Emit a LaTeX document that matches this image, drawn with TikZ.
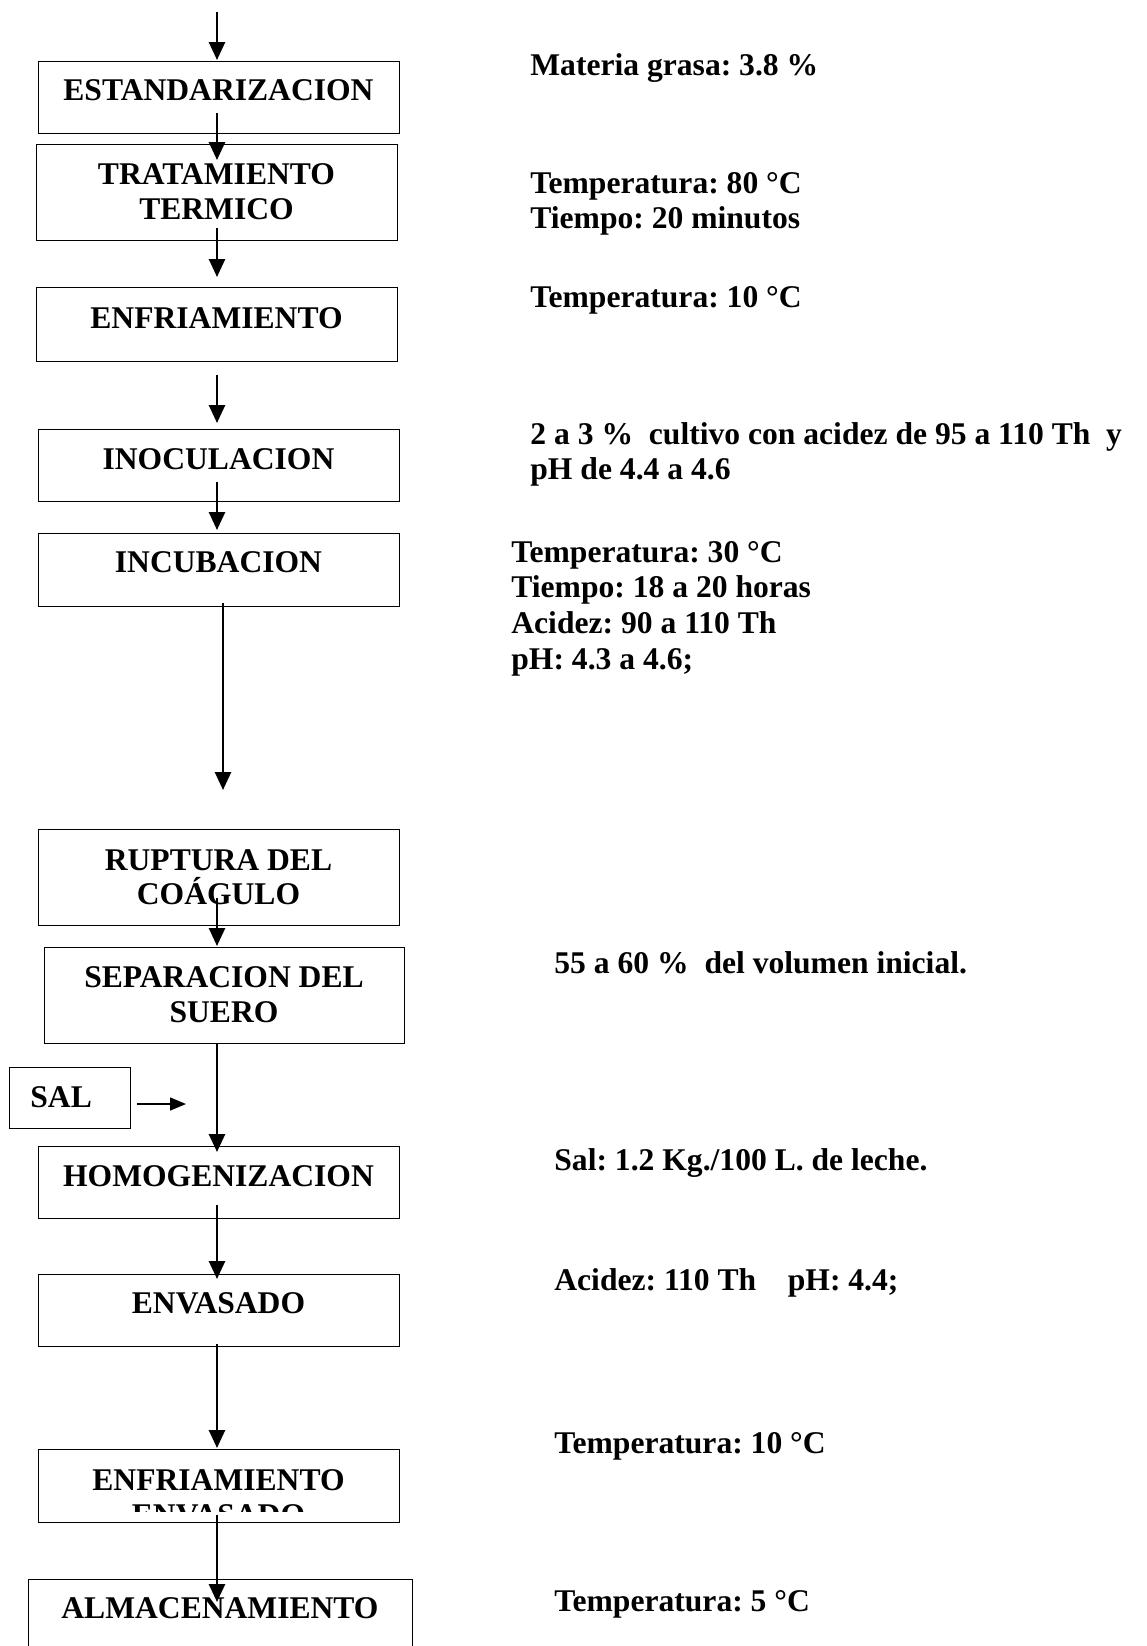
\documentclass[tikz,border=0pt]{standalone}
\usepackage{fontspec}
\setmainfont{Liberation Serif}
\usetikzlibrary{arrows.meta}
\frenchspacing
\begin{document}
\begin{tikzpicture}[x=0.5pt,y=-0.5pt,
  box/.style={draw, line width=0.7pt, inner sep=0pt, anchor=north west},
  txt/.style={inner sep=0pt, font=\fontsize{15.8}{17.5}\selectfont\bfseries},
  lbl/.style={txt, anchor=base},
  note/.style={txt, anchor=base west},
  flow/.style={line width=1.3pt, -{Triangle[length=9pt,width=8pt]}},
  feed/.style={line width=0.8pt, -{Triangle[length=8pt,width=6.5pt]}}]

% page frame
\useasboundingbox (0,0) rectangle (1147,1646);
\clip (0,0) rectangle (1147,1646);
\fill[white] (0,0) rectangle (1147,1646);

% process boxes
\node[box, minimum width=180.5pt, minimum height=36pt]   (est)   at (38,61)   {};
\node[box, minimum width=180.5pt, minimum height=48pt]   (trat)  at (36,144)  {};
\node[box, minimum width=180.5pt, minimum height=37pt]   (enf)   at (36,287)  {};
\node[box, minimum width=180.5pt, minimum height=36pt]   (inoc)  at (38,429)  {};
\node[box, minimum width=180.5pt, minimum height=36.5pt] (incub) at (38,533)  {};
\node[box, minimum width=180.5pt, minimum height=48pt]   (rupt)  at (38,829)  {};
\node[box, minimum width=180pt,   minimum height=48pt]   (sep)   at (44,947)  {};
\node[box, minimum width=60.5pt,  minimum height=30.5pt] (sal)   at (9,1067)  {};
\node[box, minimum width=180.5pt, minimum height=36pt]   (homo)  at (38,1146) {};
\node[box, minimum width=180.5pt, minimum height=36pt]   (env)   at (38,1274) {};
\node[box, minimum width=180.5pt, minimum height=36.5pt] (enfe)  at (38,1449) {};
\node[box, minimum width=192pt,   minimum height=45pt]   (alm)   at (28,1579) {};

% box captions
\node[lbl] (t-est)   at (218.5,100)  {ESTANDARIZACION};
\node[lbl] (t-trat1) at (216.5,184)  {TRATAMIENTO};
\node[lbl] (t-trat2) at (216.5,219)  {TERMICO};
\node[lbl] (t-enf)   at (216.5,328)  {ENFRIAMIENTO};
\node[lbl] (t-inoc)  at (218.5,469)  {INOCULACION};
\node[lbl] (t-incub) at (218.5,572)  {INCUBACION};
\node[lbl] (t-rupt1) at (218.5,870)  {RUPTURA DEL};
\node[lbl] (t-rupt2) at (218.5,904)  {COÁGULO};
\node[lbl] (t-sep1)  at (224,987)    {SEPARACION DEL};
\node[lbl] (t-sep2)  at (224,1022)   {SUERO};
\node[txt, anchor=base west] (t-sal) at (30,1107) {SAL};
\node[lbl] (t-homo)  at (218.5,1186) {HOMOGENIZACION};
\node[lbl] (t-env)   at (218.5,1313) {ENVASADO};
\node[lbl] (t-enfe1) at (218.5,1490) {ENFRIAMIENTO};
\begin{scope}
  \clip (38,1449) rectangle (399,1511);
  \node[lbl] (t-enfe2) at (218.5,1525) {ENVASADO};
\end{scope}
\node[lbl] (t-alm)   at (220,1618)   {ALMACENAMIENTO};

% process conditions
\node[note] (n-est)   at (530,75)   {Materia grasa: 3.8 \%};
\node[note] (n-trat1) at (530,193)  {Temperatura: 80 °C};
\node[note] (n-trat2) at (530,228)  {Tiempo: 20 minutos};
\node[note] (n-enf)   at (530,307)  {Temperatura: 10 °C};
\node[note] (n-inoc1) at (530,444)  {2 a 3 \%~~cultivo con acidez de 95 a 110 Th~~y};
\node[note] (n-inoc2) at (530,479)  {pH de 4.4 a 4.6};
\node[note] (n-inc1)  at (511,562)  {Temperatura: 30 °C};
\node[note] (n-inc2)  at (511,597)  {Tiempo: 18 a 20 horas};
\node[note] (n-inc3)  at (511,633)  {Acidez: 90 a 110 Th};
\node[note] (n-inc4)  at (511,669)  {pH: 4.3 a 4.6;};
\node[note] (n-sep)   at (554,973)  {55 a 60 \%~~del volumen inicial.};
\node[note] (n-homo)  at (554,1170) {Sal: 1.2 Kg./100 L. de leche.};
\node[note] (n-env)   at (554,1290) {Acidez: 110 Th~~~~pH: 4.4;};
\node[note] (n-enfe)  at (554,1453) {Temperatura: 10 °C};
\node[note] (n-alm)   at (554,1611) {Temperatura: 5 °C};

% connector end points
\coordinate (a0s)  at (217,12);   \coordinate (a0e)  at (217,60);
\coordinate (a1s)  at (217,113);  \coordinate (a1e)  at (217,160);
\coordinate (a2s)  at (217,228);  \coordinate (a2e)  at (217,277);
\coordinate (a3s)  at (217,375);  \coordinate (a3e)  at (217,423);
\coordinate (a4s)  at (217,482);  \coordinate (a4e)  at (217,530);
\coordinate (a5s)  at (223,603);  \coordinate (a5e)  at (223,790);
\coordinate (a6s)  at (217,898);  \coordinate (a6e)  at (217,946);
\coordinate (a7s)  at (217,1043); \coordinate (a7e)  at (217,1152);
\coordinate (a8s)  at (217,1205); \coordinate (a8e)  at (217,1279);
\coordinate (a9s)  at (217,1344); \coordinate (a9e)  at (217,1448);
\coordinate (a10s) at (217,1515); \coordinate (a10e) at (217,1602);
\coordinate (fs)   at (137,1104); \coordinate (fe)   at (186,1104);

% flow arrows
\draw[flow] (a0s) -- (a0e);
\draw[flow] (a1s) -- (a1e);
\draw[flow] (a2s) -- (a2e);
\draw[flow] (a3s) -- (a3e);
\draw[flow] (a4s) -- (a4e);
\draw[flow] (a5s) -- (a5e);
\draw[flow] (a6s) -- (a6e);
\draw[flow] (a7s) -- (a7e);
\draw[flow] (a8s) -- (a8e);
\draw[flow] (a9s) -- (a9e);
\draw[flow] (a10s) -- (a10e);
\draw[feed] (fs) -- (fe);
\end{tikzpicture}
\end{document}
